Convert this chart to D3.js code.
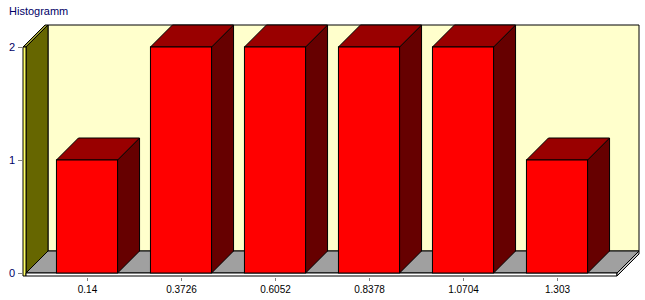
<!DOCTYPE html>
<html>
<head>
<meta charset="utf-8">
<script src="https://cdn.jsdelivr.net/npm/d3@7"></script>
<style>
  body { margin: 0; background: #fff; }
  text { font-family: "Liberation Sans", Arial, sans-serif; }
</style>
</head>
<body>
<div id="chart"></div>
<script>
// histogram data
var binLabels = ["0.14", "0.3726", "0.6052", "0.8378", "1.0704", "1.303"];
var binCounts = [1, 2, 2, 2, 2, 1];
var yTicks = [0, 1, 2];

var width = 645, height = 300;
var depth = 22;          // 3d offset
var edge = 3;            // wall / floor thickness
var plotLeft = 26, plotRight = 617, plotTop = 47, plotBottom = 273;

var svg = d3.select("#chart").append("svg")
    .attr("width", width)
    .attr("height", height);

var x = d3.scaleBand()
    .domain(binLabels)
    .range([40, 604])
    .paddingInner(0.35)
    .paddingOuter(0.175);

var y = d3.scaleLinear()
    .domain([0, 2])
    .range([plotBottom, plotTop]);

function poly(pts) {
    return "M" + pts.map(function(p){ return p.join(","); }).join("L") + "Z";
}

// title
svg.append("text")
    .attr("x", 9)
    .attr("y", 15)
    .attr("fill", "#000066")
    .style("font-size", "11px")
    .text("Histogramm");

// back wall
svg.append("path")
    .attr("d", poly([[plotLeft + depth, plotTop - depth], [plotRight + depth, plotTop - depth],
                     [plotRight + depth, plotBottom - depth], [plotLeft + depth, plotBottom - depth]]))
    .attr("fill", "#ffffcc")
    .attr("stroke", "#000");

// left wall
svg.append("path")
    .attr("d", poly([[plotLeft, plotTop], [plotLeft + depth, plotTop - depth],
                     [plotLeft + depth, plotBottom - depth], [plotLeft, plotBottom]]))
    .attr("fill", "#666600")
    .attr("stroke", "#000");
// left wall top edge
svg.append("path")
    .attr("d", poly([[plotLeft - edge, plotTop], [plotLeft - edge + depth, plotTop - depth],
                     [plotLeft + depth, plotTop - depth], [plotLeft, plotTop]]))
    .attr("fill", "#999933")
    .attr("stroke", "#000");
// left wall front edge
svg.append("path")
    .attr("d", poly([[plotLeft - edge, plotTop], [plotLeft, plotTop], [plotLeft, plotBottom + edge], [plotLeft - edge, plotBottom + edge]]))
    .attr("fill", "#ffff66")
    .attr("stroke", "#000");

// floor
svg.append("path")
    .attr("d", poly([[plotLeft, plotBottom], [plotLeft + depth, plotBottom - depth],
                     [plotRight + depth, plotBottom - depth], [plotRight, plotBottom]]))
    .attr("fill", "#a0a0a0")
    .attr("stroke", "#000");
// floor front edge
svg.append("path")
    .attr("d", poly([[plotLeft, plotBottom], [plotRight, plotBottom], [plotRight, plotBottom + edge], [plotLeft, plotBottom + edge]]))
    .attr("fill", "#ffffff")
    .attr("stroke", "#000");
// floor right edge
svg.append("path")
    .attr("d", poly([[plotRight, plotBottom], [plotRight + depth, plotBottom - depth],
                     [plotRight + depth, plotBottom - depth + edge], [plotRight, plotBottom + edge]]))
    .attr("fill", "#c0c0c0")
    .attr("stroke", "#000");

// bars
var bw = x.bandwidth();
var bars = svg.selectAll("g.bar")
    .data(binLabels.map(function(l, i){ return {label: l, count: binCounts[i]}; }))
    .enter().append("g")
    .attr("class", "bar");

bars.append("path")   // side
    .attr("d", function(d) {
        var x0 = x(d.label) + bw, yv = y(d.count), y0 = y(0);
        return poly([[x0, yv], [x0 + depth, yv - depth], [x0 + depth, y0 - depth], [x0, y0]]);
    })
    .attr("fill", "#660000")
    .attr("stroke", "#000");

bars.append("path")   // top
    .attr("d", function(d) {
        var x0 = x(d.label), yv = y(d.count);
        return poly([[x0, yv], [x0 + depth, yv - depth], [x0 + bw + depth, yv - depth], [x0 + bw, yv]]);
    })
    .attr("fill", "#990000")
    .attr("stroke", "#000");

bars.append("rect")   // front
    .attr("x", function(d){ return x(d.label); })
    .attr("y", function(d){ return y(d.count); })
    .attr("width", bw)
    .attr("height", function(d){ return y(0) - y(d.count); })
    .attr("fill", "#ff0000")
    .attr("stroke", "#000");

// y axis ticks + labels
yTicks.forEach(function(t) {
    svg.append("line")
        .attr("x1", 18).attr("x2", plotLeft - edge)
        .attr("y1", y(t) + 0.5).attr("y2", y(t) + 0.5)
        .attr("stroke", "#808080");
    svg.append("text")
        .attr("x", 15)
        .attr("y", y(t) + 4)
        .attr("text-anchor", "end")
        .attr("fill", "#000066")
        .style("font-size", "11px")
        .text(t);
});

// x axis ticks + labels
binLabels.forEach(function(l) {
    var cx = Math.round(x(l) + bw / 2) + 0.5;
    svg.append("line")
        .attr("x1", cx).attr("x2", cx)
        .attr("y1", plotBottom + 5).attr("y2", plotBottom + 8)
        .attr("stroke", "#808080");
    svg.append("text")
        .attr("x", cx)
        .attr("y", 293)
        .attr("text-anchor", "middle")
        .attr("fill", "#000")
        .style("font-size", "10px")
        .text(l);
});
</script>
</body>
</html>
